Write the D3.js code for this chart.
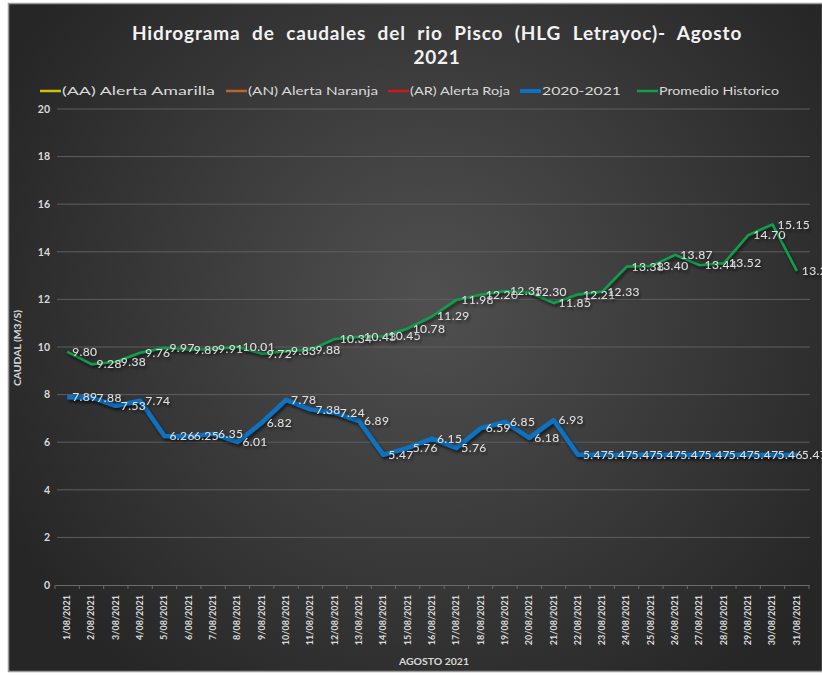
<!DOCTYPE html>
<html>
<head>
<meta charset="utf-8">
<script src="https://cdn.jsdelivr.net/npm/d3@7"></script>
<style>
  body { margin: 0; background: #ffffff; }
  svg text { font-family: "Lato", "Liberation Sans", sans-serif; }
</style>
</head>
<body>
<div id="chart"></div>
<script>
// data
var dias = ["1/08/2021","2/08/2021","3/08/2021","4/08/2021","5/08/2021","6/08/2021","7/08/2021",
    "8/08/2021","9/08/2021","10/08/2021","11/08/2021","12/08/2021","13/08/2021","14/08/2021",
    "15/08/2021","16/08/2021","17/08/2021","18/08/2021","19/08/2021","20/08/2021","21/08/2021",
    "22/08/2021","23/08/2021","24/08/2021","25/08/2021","26/08/2021","27/08/2021","28/08/2021",
    "29/08/2021","30/08/2021","31/08/2021"];

var caudal2021 = [7.89, 7.88, 7.53, 7.74, 6.26, 6.25, 6.35, 6.01, 6.82, 7.78, 7.38, 7.24, 6.89, 5.47,
    5.76, 6.15, 5.76, 6.59, 6.85, 6.18, 6.93, 5.47, 5.47, 5.47, 5.47, 5.47, 5.47, 5.47, 5.47, 5.46, 5.47];

var promedioHistorico = [9.80, 9.28, 9.38, 9.76, 9.97, 9.89, 9.91, 10.01, 9.72, 9.83, 9.88, 10.34, 10.43,
    10.45, 10.78, 11.29, 11.98, 12.20, 12.35, 12.30, 11.85, 12.21, 12.33, 13.38, 13.40, 13.87, 13.44,
    13.52, 14.70, 15.15, 13.20];

// alert series are only in the legend (no values shown in the chart)
var alertaAmarilla = [];
var alertaNaranja = [];
var alertaRoja = [];

var yTicks = [0, 2, 4, 6, 8, 10, 12, 14, 16, 18, 20];

var leyenda = [
    {name: "(AA) Alerta Amarilla", color: "#c8c800", data: alertaAmarilla},
    {name: "(AN) Alerta Naranja", color: "#c0642a", data: alertaNaranja},
    {name: "(AR) Alerta Roja", color: "#d01818", data: alertaRoja},
    {name: "2020-2021", color: "#0a72c2", data: caudal2021},
    {name: "Promedio Historico", color: "#10a04a", data: promedioHistorico}
];

var W = 822, H = 675;
var svg = d3.select("#chart").append("svg")
    .attr("width", W)
    .attr("height", H);

var defs = svg.append("defs");
var grad = defs.append("radialGradient")
    .attr("id", "bg")
    .attr("gradientUnits", "userSpaceOnUse")
    .attr("cx", 430).attr("cy", 300).attr("r", 480);
grad.append("stop").attr("offset", "0%").attr("stop-color", "#505050");
grad.append("stop").attr("offset", "100%").attr("stop-color", "#262626");

var shadow = defs.append("filter").attr("id", "shadow")
    .attr("x", "-5%").attr("y", "-20%").attr("width", "110%").attr("height", "140%");
shadow.append("feDropShadow")
    .attr("dx", 1.5).attr("dy", 2.5).attr("stdDeviation", 1.5)
    .attr("flood-color", "#000").attr("flood-opacity", 0.6);

// frame
svg.append("rect")
    .attr("x", 8.5).attr("y", 3.5)
    .attr("width", W - 8).attr("height", 668)
    .attr("fill", "url(#bg)")
    .attr("stroke", "#9a9a9a")
    .attr("stroke-width", 1.5);

// scales
var x = d3.scaleBand().domain(dias).range([55, 809]);
var y = d3.scaleLinear().domain([0, 20]).range([585, 109]);
var cx = function (d) { return x(d) + x.bandwidth() / 2; };

// title
var title = svg.append("text")
    .attr("text-anchor", "middle")
    .attr("fill", "#f2f2f2")
    .style("font-size", "19px")
    .style("font-weight", "bold")
    .style("word-spacing", "6px")
    .style("letter-spacing", "0.7px");
title.append("tspan").attr("x", 437).attr("y", 40)
    .attr("textLength", 610)
    .attr("lengthAdjust", "spacing")
    .text("Hidrograma de caudales del rio Pisco (HLG Letrayoc)- Agosto");
title.append("tspan").attr("x", 437).attr("y", 64).text("2021");

// legend
var legX = [40, 226, 388, 520, 637];
var legW = [153, 130, 100, 79, 120];
var leg = svg.append("g").selectAll("g").data(leyenda).enter().append("g")
    .attr("transform", function (d, i) { return "translate(" + legX[i] + ",91)"; });
leg.append("line")
    .attr("x1", 0).attr("x2", 21).attr("y1", 0).attr("y2", 0)
    .attr("stroke", function (d) { return d.color; })
    .attr("stroke-width", function (d) { return d.name == "2020-2021" ? 4 : 2.5; });
leg.append("text")
    .attr("x", 22).attr("y", 4)
    .attr("fill", "#d9d9d9")
    .attr("textLength", function (d, i) { return legW[i]; })
    .attr("lengthAdjust", "spacingAndGlyphs")
    .style("font-size", "11px")
    .text(function (d) { return d.name; });

// grid + y axis
var grid = svg.append("g");
grid.selectAll("line").data(yTicks.filter(function (t) { return t > 0; })).enter().append("line")
    .attr("x1", 57).attr("x2", 810)
    .attr("y1", function (d) { return y(d); })
    .attr("y2", function (d) { return y(d); })
    .attr("stroke", "#5e5e5e")
    .attr("stroke-width", 1);

var yAxis = svg.append("g")
    .attr("transform", "translate(50,0)")
    .call(d3.axisLeft(y).tickValues(yTicks).tickSize(0).tickPadding(0));
yAxis.select(".domain").remove();
yAxis.selectAll("text")
    .attr("fill", "#d9d9d9")
    .style("font-size", "10.5px")
    .style("font-weight", "bold");

svg.append("text")
    .attr("transform", "translate(21,348) rotate(-90)")
    .attr("text-anchor", "middle")
    .attr("fill", "#d9d9d9")
    .attr("textLength", 76)
    .attr("lengthAdjust", "spacingAndGlyphs")
    .style("font-size", "9px")
    .style("font-weight", "bold")
    .text("CAUDAL (M3/S)");

// x axis
var xAxis = svg.append("g")
    .attr("transform", "translate(0,585)")
    .call(d3.axisBottom(x).tickSize(0).tickPadding(0));
xAxis.select(".domain").attr("stroke", "#6a6a6a");
xAxis.selectAll("text")
    .attr("transform", "rotate(-90)")
    .attr("text-anchor", "end")
    .attr("x", -10).attr("y", 0).attr("dy", "0.32em")
    .attr("fill", "#d9d9d9")
    .style("font-size", "9px")
    .style("font-weight", "bold");
// small ticks between categories
xAxis.selectAll(".sep").data(dias.concat(["end"])).enter().append("line")
    .attr("x1", function (d, i) { return 55 + i * x.step(); })
    .attr("x2", function (d, i) { return 55 + i * x.step(); })
    .attr("y1", 0).attr("y2", 4)
    .attr("stroke", "#6a6a6a");

svg.append("text")
    .attr("x", 434).attr("y", 665)
    .attr("text-anchor", "middle")
    .attr("fill", "#d9d9d9")
    .attr("textLength", 70)
    .attr("lengthAdjust", "spacingAndGlyphs")
    .style("font-size", "9.5px")
    .style("font-weight", "bold")
    .text("AGOSTO 2021");

// series
var line = d3.line()
    .x(function (d, i) { return cx(dias[i]); })
    .y(function (d) { return y(d); });

var series = [
    {data: promedioHistorico, color: "#10a04a", width: 2.5},
    {data: caudal2021, color: "#0a72c2", width: 4.5}
];

series.forEach(function (s) {
    svg.append("path")
        .datum(s.data)
        .attr("d", line)
        .attr("fill", "none")
        .attr("stroke", s.color)
        .attr("stroke-width", s.width)
        .attr("stroke-linejoin", "round")
        .attr("filter", "url(#shadow)");
});

// data labels, to the right of each point
series.forEach(function (s) {
    svg.append("g").selectAll("text").data(s.data).enter().append("text")
        .attr("x", function (d, i) { return cx(dias[i]) + 5; })
        .attr("y", function (d) { return y(d); })
        .attr("dy", "0.35em")
        .attr("fill", "#e0e0e0")
        .attr("filter", "url(#shadow)")
        .style("font-size", "12px")
        .style("letter-spacing", "0.4px")
        .text(function (d) { return d.toFixed(2); });
});
</script>
</body>
</html>
